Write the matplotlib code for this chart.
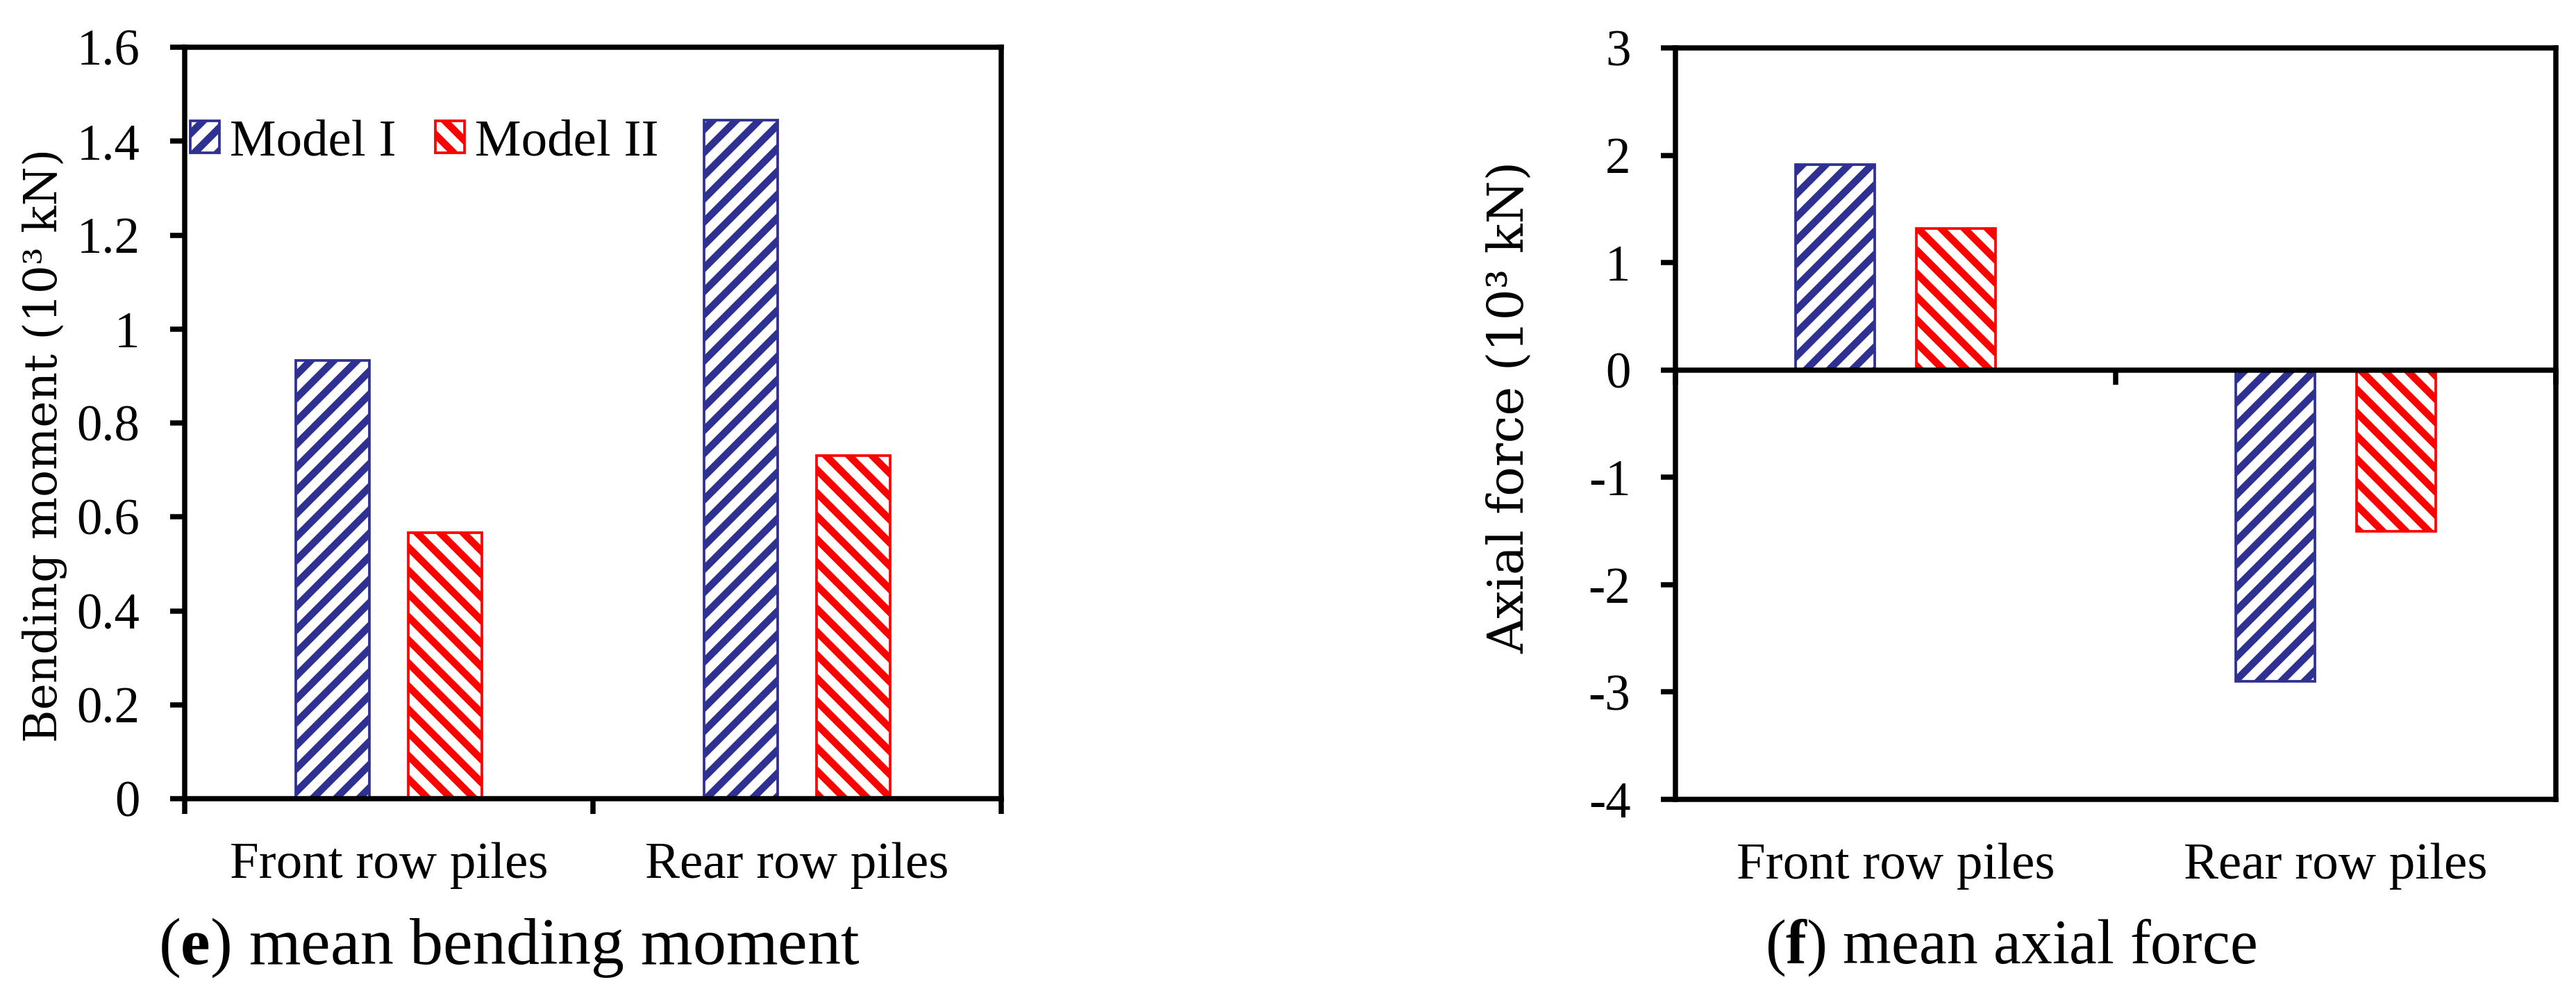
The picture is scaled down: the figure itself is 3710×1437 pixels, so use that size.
import matplotlib
matplotlib.use('Agg')
import matplotlib.pyplot as plt
import numpy as np
from matplotlib.ticker import FuncFormatter

# ---------------- data ----------------
categories = ['Front row piles', 'Rear row piles']
series_names = ['Model I', 'Model II']
moment_model1 = [0.933, 1.445]
moment_model2 = [0.566, 0.730]
axial_model1 = [1.91, -2.90]
axial_model2 = [1.32, -1.50]
moment_ticks = [0, 0.2, 0.4, 0.6, 0.8, 1.0, 1.2, 1.4, 1.6]
axial_ticks = [-4, -3, -2, -1, 0, 1, 2, 3]
moment_ylabel = 'Bending moment (10³ kN)'
axial_ylabel = 'Axial force (10³ kN)'
caption_e = r'($\mathbf{e}$) mean bending moment'
caption_f = r'($\mathbf{f}$) mean axial force'

plt.rcParams.update({
    'font.family': ['Liberation Serif', 'DejaVu Serif'],
    'axes.unicode_minus': False,
    'hatch.linewidth': 2.5,
    'mathtext.fontset': 'custom',
    'mathtext.rm': 'Liberation Serif',
    'mathtext.bf': 'Liberation Serif:bold',
    'mathtext.it': 'Liberation Serif:italic',
})

W, H, DPI = 3711, 1437, 300
fig = plt.figure(figsize=(W / DPI, H / DPI), dpi=DPI)
ax1 = fig.add_axes([266 / W, 1 - 1150 / H, 1176 / W, 1082 / H])
ax2 = fig.add_axes([2413 / W, 1 - 1151 / H, 1268 / W, 1082 / H])

blue = '#2E3192'
red = '#FF0000'
x = np.arange(len(categories))
bw = 0.18
off = 0.1375
SPW = 1.8
TICK_FS = 17.5
fmt = FuncFormatter(lambda v, _: f'{v:g}')


def draw_bars(ax, v1, v2):
    ax.bar(x - off, v1, bw, color='white', edgecolor=blue, hatch='///',
           linewidth=0.9, label=series_names[0], zorder=2)
    ax.bar(x + off, v2, bw, color='white', edgecolor=red, hatch='\\\\\\',
           linewidth=0.9, label=series_names[1], zorder=2)


def style(ax, ticks):
    ax.set_xlim(-0.5, len(categories) - 0.5)
    ax.set_ylim(ticks[0], ticks[-1])
    ax.set_yticks(ticks)
    ax.yaxis.set_major_formatter(fmt)
    for s in ax.spines.values():
        s.set_linewidth(SPW)
        s.set_color('black')
        s.set_zorder(4)
    ax.tick_params(axis='y', direction='out', length=5, width=SPW,
                   labelsize=TICK_FS, pad=10.5, right=False)
    ax.set_xticks(x, categories, minor=True)
    ax.tick_params(axis='x', which='minor', length=0, labelsize=18, pad=15)


# ---- left panel ----
draw_bars(ax1, moment_model1, moment_model2)
style(ax1, moment_ticks)
boundaries = np.arange(len(categories) + 1) - 0.5
ax1.set_xticks(boundaries)
ax1.tick_params(axis='x', which='major', direction='out', length=5.3,
                width=SPW, labelbottom=False)
ax1.set_ylabel(moment_ylabel, fontfamily='DejaVu Serif', fontsize=15.5, va='center')
ax1.yaxis.set_label_coords(-0.171, 0.47)
ax1.legend(ncol=2, loc='center left', bbox_to_anchor=(0.007, 0.873),
           frameon=False, fontsize=18, handlelength=0.56, handleheight=0.57,
           handletextpad=0.2, columnspacing=0.75, borderpad=0, borderaxespad=0)

# ---- right panel ----
draw_bars(ax2, axial_model1, axial_model2)
style(ax2, axial_ticks)
ax2.set_xticks([])
lo, hi = axial_ticks[0], axial_ticks[-1]
sec = ax2.secondary_xaxis((0 - lo) / (hi - lo))
sec.set_alignment('bottom')
sec.set_xticks(boundaries)
sec.tick_params(axis='x', direction='out', length=5, width=SPW, labelbottom=False)
for s in sec.spines.values():
    s.set_linewidth(SPW)
sec.set_zorder(5)
ax2.set_ylabel(axial_ylabel, fontfamily='DejaVu Serif', fontsize=17, va='center')
ax2.yaxis.set_label_coords(-0.188, 0.522)

# ---- captions ----
fig.text(228 / W, 1 - 1388 / H, caption_e, fontsize=23, va='baseline', ha='left')
fig.text(2542 / W, 1 - 1387 / H, caption_f, fontsize=21.5, va='baseline', ha='left')

fig.savefig('out.png', dpi=DPI)
